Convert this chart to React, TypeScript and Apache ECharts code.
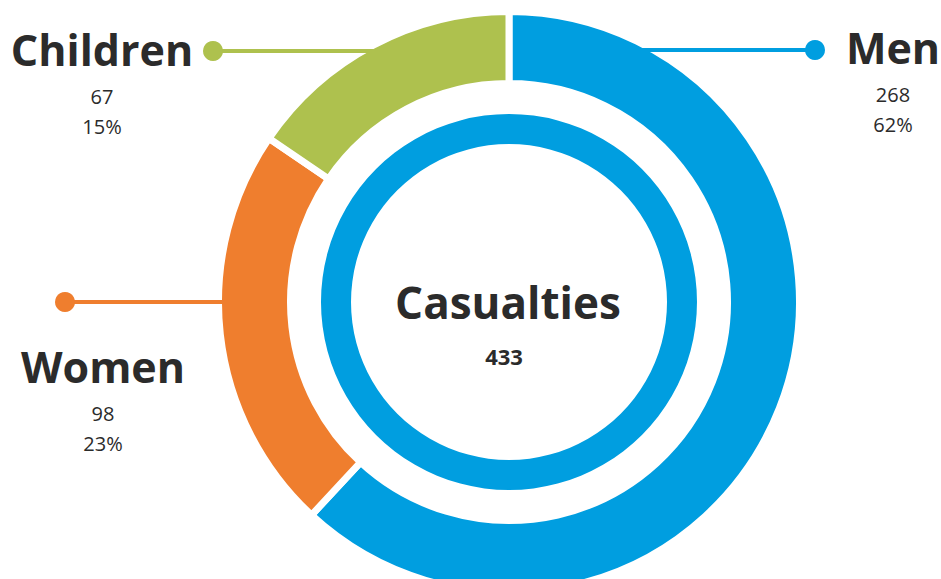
import React, { useEffect, useRef } from "react";
import * as echarts from "echarts";

const categories = ["Men", "Women", "Children"];
const values = [268, 98, 67];
const colors = ["#009EE0", "#EF7E2E", "#AEC14E"];
const centerTitle = "Casualties";

// layout of the callouts (pixels)
const callouts = [
  { textX: 893, titleY: 47, dot: [815, 50], lineEnd: 600 },
  { textX: 103, titleY: 366, dot: [65, 302], lineEnd: 240 },
  { textX: 102, titleY: 49, dot: [213, 51], lineEnd: 400 },
];

const FONT = "'Open Sans', 'Noto Sans', sans-serif";
const TEXT = "#2b2b2b";

export default function App() {
  const ref = useRef<HTMLDivElement>(null);
  useEffect(() => {
    document.body.style.margin = "0";
    const chart = echarts.init(ref.current!, null, { renderer: "svg" });
    const total = values.reduce((a, b) => a + b, 0);
    const graphics: any[] = [];
    categories.forEach((name, i) => {
      const c = callouts[i];
      const [dx, dy] = c.dot;
      graphics.push({
        type: "line",
        z: 100,
        shape: { x1: dx, y1: dy, x2: c.lineEnd, y2: dy },
        style: { stroke: colors[i], lineWidth: 4 },
      });
      graphics.push({
        type: "circle",
        z: 101,
        shape: { cx: dx, cy: dy, r: 10 },
        style: { fill: colors[i] },
      });
      graphics.push({
        type: "text",
        x: c.textX,
        y: c.titleY,
        style: {
          text: name,
          fontFamily: FONT,
          fontWeight: 700,
          fontSize: 43,
          fill: TEXT,
          align: "center",
          verticalAlign: "middle",
        },
      });
      graphics.push({
        type: "text",
        x: c.textX,
        y: c.titleY + 47,
        style: {
          text: String(values[i]),
          fontFamily: FONT,
          fontSize: 20,
          fill: TEXT,
          align: "center",
          verticalAlign: "middle",
        },
      });
      graphics.push({
        type: "text",
        x: c.textX,
        y: c.titleY + 77,
        style: {
          text: Math.round((values[i] / total) * 100) + "%",
          fontFamily: FONT,
          fontSize: 20,
          fill: TEXT,
          align: "center",
          verticalAlign: "middle",
        },
      });
    });
    graphics.push({
      type: "text",
      x: 508,
      y: 302,
      style: {
        text: centerTitle,
        fontFamily: FONT,
        fontWeight: 700,
        fontSize: 44,
        fill: TEXT,
        align: "center",
        verticalAlign: "middle",
      },
    });
    graphics.push({
      type: "text",
      x: 504,
      y: 356,
      style: {
        text: String(total),
        fontFamily: FONT,
        fontWeight: 700,
        fontSize: 22,
        fill: TEXT,
        align: "center",
        verticalAlign: "middle",
      },
    });

    chart.setOption({
      animation: false,
      backgroundColor: "#ffffff",
      graphic: graphics,
      series: [
        {
          type: "pie",
          center: [509, 302],
          radius: [218.5, 290.5],
          startAngle: 90,
          clockwise: true,
          silent: true,
          label: { show: false },
          labelLine: { show: false },
          itemStyle: { borderColor: "#ffffff", borderWidth: 7 },
          data: categories.map((name, i) => ({
            name,
            value: values[i],
            itemStyle: { color: colors[i] },
          })),
        },
        {
          type: "pie",
          center: [509, 302],
          radius: [158, 188],
          silent: true,
          label: { show: false },
          labelLine: { show: false },
          data: [{ name: centerTitle, value: total, itemStyle: { color: colors[0] } }],
        },
      ],
    });
    return () => chart.dispose();
  }, []);
  return (
    <div
      ref={ref}
      style={{ position: "absolute", left: 0, top: 0, width: 941, height: 579 }}
    />
  );
}
